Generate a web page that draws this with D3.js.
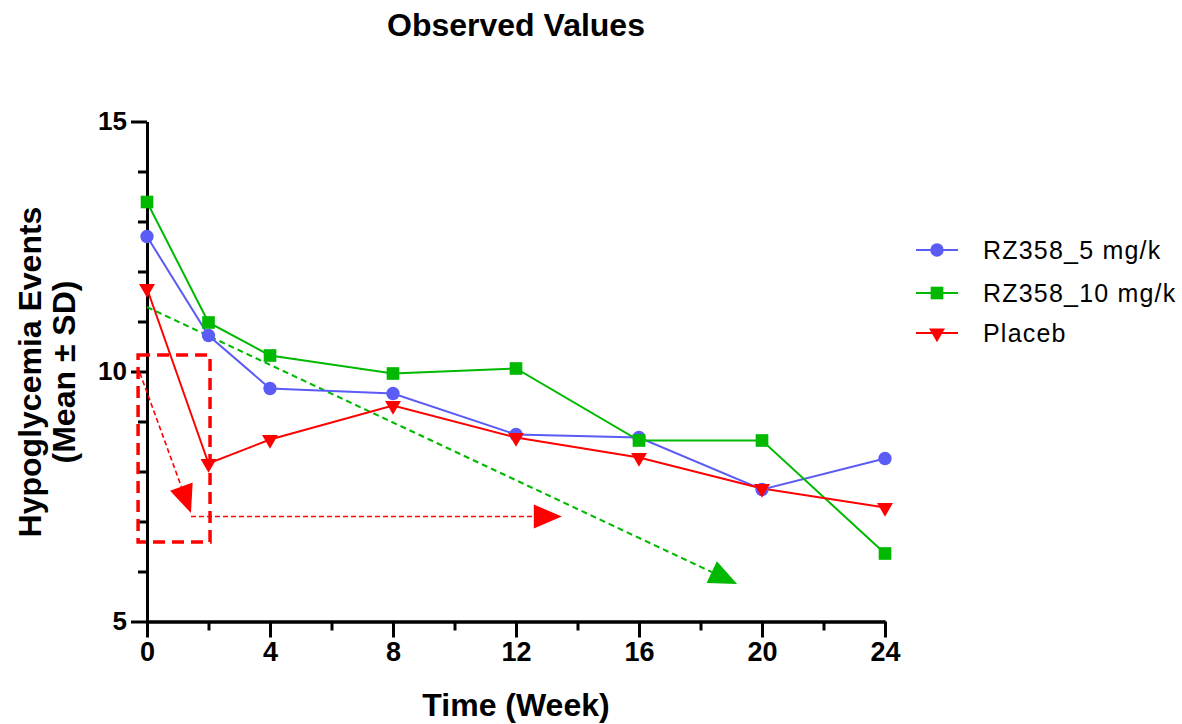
<!DOCTYPE html>
<html>
<head>
<meta charset="utf-8">
<script src="https://cdn.jsdelivr.net/npm/d3@7"></script>
<style>
  body { margin: 0; background: #fff; }
  svg { font-family: "Liberation Sans", Arial, sans-serif; }
</style>
</head>
<body>
<svg id="chart" width="1182" height="724"></svg>
<script>
// data
const weeks = [0, 2, 4, 8, 12, 16, 20, 24];
const dose5 = [12.7, 10.72, 9.66, 9.56, 8.74, 8.68, 7.64, 8.26];
const dose10 = [13.39, 10.98, 10.32, 9.96, 10.06, 8.62, 8.62, 6.36];
const placebo = [11.66, 8.16, 8.64, 9.32, 8.68, 8.28, 7.66, 7.28];
const seriesNames = ['RZ358_5 mg/k', 'RZ358_10 mg/k', 'Placeb'];
const xTicks = [0, 4, 8, 12, 16, 20, 24];
const yTicks = [5, 10, 15];

// annotation shapes (data units)
const boxCorners = [[-0.29, 10.33], [2.05, 6.59]];
const redArrow1 = [[-0.23, 9.97], [1.43, 7.17]];
const redArrow2 = [[1.43, 7.1], [13.49, 7.1]];
const greenArrow = [[0, 11.29], [19.19, 5.75]];

const blue = '#5b5bf5', green = '#00b900', red = '#ff0000';

let svg = d3.select('#chart');

let x = d3.scaleLinear().domain([0, 24]).range([147, 885]);
let y = d3.scaleLinear().domain([5, 15]).range([621.5, 121.5]);

// title
svg.append('text')
    .attr('x', 516).attr('y', 36)
    .attr('text-anchor', 'middle')
    .style('font-size', '32px').style('font-weight', 'bold')
    .text('Observed Values');

// axes
let xAxis = svg.append('g').attr('transform', 'translate(0,' + y(5) + ')');
xAxis.call(d3.axisBottom(x).tickValues(d3.range(2, 24, 4)).tickSize(9).tickFormat('').tickSizeOuter(0));
xAxis.call(g => g.append('g').call(d3.axisBottom(x).tickValues(xTicks).tickSize(16).tickPadding(4).tickSizeOuter(0)));
let yAxis = svg.append('g').attr('transform', 'translate(' + x(0) + ',0)');
yAxis.call(d3.axisLeft(y).tickValues(d3.range(6, 15).filter(v => v !== 10)).tickSize(9).tickFormat('').tickSizeOuter(0));
yAxis.call(g => g.append('g').call(d3.axisLeft(y).tickValues(yTicks).tickSize(16).tickPadding(4).tickSizeOuter(0)));

svg.selectAll('.domain, .tick line').attr('stroke', '#000').attr('stroke-width', 3);
xAxis.selectAll('text').style('font-size', '27px').style('font-weight', 'bold').attr('fill', '#000');
yAxis.selectAll('text').style('font-size', '26px').style('font-weight', 'bold').attr('fill', '#000');

// axis titles
svg.append('text')
    .attr('x', 516).attr('y', 716)
    .attr('text-anchor', 'middle')
    .style('font-size', '32px').style('font-weight', 'bold')
    .text('Time (Week)');
let yl = svg.append('text')
    .attr('transform', 'translate(41,372) rotate(-90)')
    .attr('text-anchor', 'middle')
    .style('font-size', '32px').style('font-weight', 'bold');
yl.append('tspan').attr('x', 0).attr('dy', 0).text('Hypoglycemia Events');
yl.append('tspan').attr('x', 0).attr('dy', 34).text('(Mean \u00b1 SD)');

// annotations
svg.append('rect')
    .attr('x', x(boxCorners[0][0])).attr('y', y(boxCorners[0][1]))
    .attr('width', x(boxCorners[1][0]) - x(boxCorners[0][0]))
    .attr('height', y(boxCorners[1][1]) - y(boxCorners[0][1]))
    .attr('fill', 'none').attr('stroke', red)
    .attr('stroke-width', 3.5).attr('stroke-dasharray', '12,7');

function drawArrow(pts, color, width, dash) {
    let x1 = x(pts[0][0]), y1 = y(pts[0][1]), x2 = x(pts[1][0]), y2 = y(pts[1][1]);
    let len = Math.hypot(x2 - x1, y2 - y1);
    let ux = (x2 - x1) / len, uy = (y2 - y1) / len;
    let headL = 28, headW = 12;
    let bx = x2 - ux * headL, by = y2 - uy * headL;
    svg.append('line')
        .attr('x1', x1).attr('y1', y1).attr('x2', bx).attr('y2', by)
        .attr('stroke', color).attr('stroke-width', width).attr('stroke-dasharray', dash);
    svg.append('path')
        .attr('d', 'M' + x2 + ',' + y2 + 'L' + (bx - uy * headW) + ',' + (by + ux * headW)
            + 'L' + (bx + uy * headW) + ',' + (by - ux * headW) + 'Z')
        .attr('fill', color);
}
drawArrow(redArrow1, red, 1.6, '5,3');
drawArrow(redArrow2, red, 1.6, '5,3');
drawArrow(greenArrow, green, 2, '6,4');

// series
let series = [
    {name: seriesNames[0], values: dose5, color: blue, symbol: d3.symbolCircle, size: 140, rot: 0},
    {name: seriesNames[1], values: dose10, color: green, symbol: d3.symbolSquare, size: 160, rot: 0},
    {name: seriesNames[2], values: placebo, color: red, symbol: d3.symbolTriangle, size: 110, rot: 180}
];

let line = d3.line().x((d, i) => x(weeks[i])).y(d => y(d));

series.forEach(function (s) {
    svg.append('path')
        .attr('d', line(s.values))
        .attr('fill', 'none').attr('stroke', s.color).attr('stroke-width', 2);
});
series.forEach(function (s) {
    svg.append('g').selectAll('path')
        .data(s.values)
        .enter()
        .append('path')
        .attr('d', d3.symbol().type(s.symbol).size(s.size))
        .attr('transform', (d, i) => 'translate(' + x(weeks[i]) + ',' + y(d) + ') rotate(' + s.rot + ')')
        .attr('fill', s.color);
});

// legend
let legend = svg.append('g').attr('transform', 'translate(916,250)');
series.forEach(function (s, i) {
    let row = legend.append('g').attr('transform', 'translate(0,' + [0, 43, 83][i] + ')');
    row.append('line').attr('x1', 0).attr('x2', 42).attr('stroke', s.color).attr('stroke-width', 2);
    row.append('path')
        .attr('d', d3.symbol().type(s.symbol).size(s.size))
        .attr('transform', 'translate(21,0) rotate(' + s.rot + ')')
        .attr('fill', s.color);
    row.append('text')
        .attr('x', 67).attr('y', 0).attr('dy', '0.36em')
        .style('font-size', '25px').style('letter-spacing', '1.2px')
        .text(s.name);
});
</script>
</body>
</html>
